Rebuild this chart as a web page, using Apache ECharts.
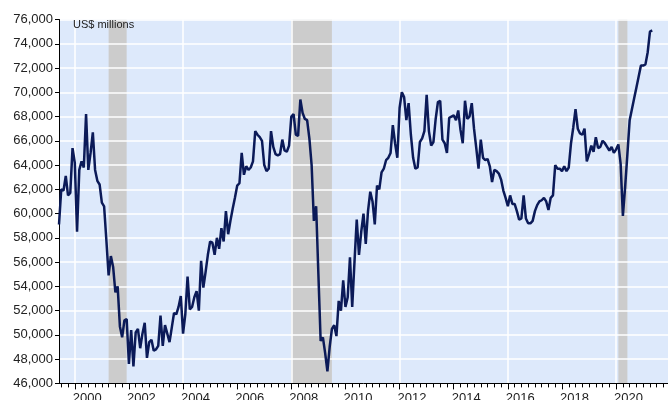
<!DOCTYPE html>
<html>
<head>
<meta charset="utf-8">
<script src="https://cdn.jsdelivr.net/npm/echarts@6/dist/echarts.min.js"></script>
<style>
  html, body { margin: 0; padding: 0; background: #fff; }
  #chart { width: 668px; height: 400px; }
</style>
</head>
<body>
<div id="chart"></div>
<script>
// monthly values, US$ millions (first point Jun 1999)
const v1999 = [59100, 62000, 61900, 63100, 61500, 61700, 65400];
const v2000 = [64200, 58500, 63600, 64300, 63800, 68200, 63600, 65000, 66700, 63600, 62700, 62400];
const v2001 = [60900, 60600, 57800, 54900, 56500, 55600, 53500, 54000, 50700, 49800, 51200, 51300];
const v2002 = [47600, 50400, 47400, 50200, 50500, 48900, 50100, 51000, 48100, 49400, 49600, 48700];
const v2003 = [48800, 49100, 51600, 49100, 50800, 50100, 49400, 50600, 51800, 51700, 52300, 53200];
const v2004 = [50100, 51700, 54800, 52100, 52300, 53100, 53600, 52000, 56100, 53900, 55200, 56600];
const v2005 = [57700, 57600, 56600, 58000, 57100, 58800, 57700, 60200, 58300, 59400, 60400, 61300];
const v2006 = [62300, 62500, 65000, 63200, 63900, 63600, 63800, 64300, 66800, 66500, 66300, 66000];
const v2007 = [64000, 63500, 63700, 66800, 65500, 64900, 64800, 64900, 66100, 65200, 65100, 65600];
const v2008 = [68000, 68200, 66500, 66400, 69400, 68300, 67800, 67700, 66200, 64000, 59400, 60600];
const v2009 = [55000, 49500, 49800, 48500, 47000, 49000, 50500, 50800, 49900, 52800, 52000, 54500];
const v2010 = [52300, 53100, 56400, 52300, 56000, 59500, 56600, 58500, 60000, 57500, 60200, 61800];
const v2011 = [61000, 59100, 62300, 62000, 63400, 63700, 64400, 64600, 65000, 67300, 65800, 64600];
const v2012 = [68700, 70000, 69600, 67700, 69100, 66500, 64600, 63700, 63800, 65900, 66200, 66800];
const v2013 = [69800, 66800, 65600, 65900, 67800, 69200, 69300, 66100, 65800, 65000, 67900, 68000];
const v2014 = [68100, 67700, 68500, 66900, 65800, 69300, 67800, 68000, 69100, 67000, 65400, 63700];
const v2015 = [66100, 64600, 64400, 64500, 63900, 62600, 63600, 63500, 63300, 62800, 61900, 61300];
const v2016 = [60600, 61500, 60800, 60800, 60200, 59500, 59600, 61500, 59600, 59200, 59200, 59400];
const v2017 = [60200, 60700, 61000, 61100, 61300, 61000, 60300, 61300, 61500, 64000, 63700, 63700];
const v2018 = [63500, 63900, 63500, 63800, 65800, 67100, 68600, 67000, 66600, 66500, 67000, 64300];
const v2019 = [64900, 65600, 65100, 66300, 65400, 65500, 66000, 65800, 65500, 65200, 65500, 65000];
const v2020 = [65300, 65700, 64100, 59800, 62200, 64900, 67700, 68600, 69500, 70400, 71300, 72200];
const v2021 = [72200, 72300, 73300, 75000, 75100];

// recession shading [from, to]
const recessions = [['2001-04', '2001-12'], ['2008-01', '2009-07'], ['2020-02', '2020-06']];

const yTicks = { min: 46000, max: 76000, step: 2000 };

const values = [].concat(v1999, v2000, v2001, v2002, v2003, v2004, v2005, v2006, v2007,
  v2008, v2009, v2010, v2011, v2012, v2013, v2014, v2015, v2016, v2017, v2018, v2019, v2020, v2021);

// month categories Jun 1999 .. Dec 2021
const months = [];
for (let y = 1999, m = 6; y < 2021 || (y === 2021 && m <= 12); ) {
  months.push(y + "-" + String(m).padStart(2, "0"));
  m++;
  if (m > 12) { m = 1; y++; }
}

function yr(s) { return parseInt(s.slice(0, 4)); }
function mo(s) { return parseInt(s.slice(5, 7)); }

var myChart = echarts.init(document.getElementById("chart"));
myChart.setOption({
  animation: false,
  textStyle: { fontFamily: "Liberation Sans, Arial, sans-serif" },
  grid: {
    left: 59, right: 0, top: 19.5, bottom: 16.6,
    outerBoundsMode: "none",
    show: true, backgroundColor: "#dde9fb", borderWidth: 0, z: 0,
  },
  graphic: [{
    type: "text", left: 73, top: 19, z: 10,
    style: { text: "US$ millions", fontSize: 11, fill: "#222", fontFamily: "Liberation Sans, Arial, sans-serif" },
  }],
  xAxis: [
    {
      type: "category",
      data: months,
      boundaryGap: false,
      z: 2,
      axisLine: { lineStyle: { color: "#000", width: 1 } },
      axisTick: {
        length: 4,
        lineStyle: { color: "#000" },
        interval: function (i, v) { return (mo(v) - 1) % 3 === 0; },
      },
      axisLabel: {
        color: "#222", fontSize: 13, margin: 9, align: "left",
        padding: [0, 0, 0, -2],
        interval: function (i, v) { return mo(v) === 1 && yr(v) % 2 === 0; },
        formatter: function (v) { return v.slice(0, 4); },
      },
      splitLine: {
        show: true,
        lineStyle: { color: "#fff", width: 1.5 },
        interval: function (i, v) { return mo(v) === 1 && yr(v) % 4 === 0; },
      },
    },
    {
      // longer ticks at labelled years
      type: "category",
      data: months,
      boundaryGap: false,
      position: "bottom",
      z: 2,
      axisLine: { show: false },
      axisLabel: { show: false },
      splitLine: { show: false },
      axisTick: {
        length: 6,
        lineStyle: { color: "#000" },
        interval: function (i, v) { return mo(v) === 1 && yr(v) % 2 === 0; },
      },
    },
  ],
  yAxis: {
    type: "value",
    min: yTicks.min,
    max: yTicks.max,
    interval: yTicks.step,
    z: 2,
    axisLine: { show: true, lineStyle: { color: "#000", width: 1 } },
    axisTick: { show: true, length: 4, lineStyle: { color: "#000" } },
    axisLabel: {
      color: "#222", fontSize: 13, margin: 6,
      padding: [0, 0, 4, 0],
      formatter: function (v) { return v.toLocaleString("en-US"); },
    },
    splitLine: { lineStyle: { color: "#fff", width: 1.5 } },
  },
  series: [
    {
      type: "line",
      data: values,
      z: 3,
      symbol: "none",
      lineStyle: { color: "#0b1a58", width: 2.5 },
      markArea: {
        silent: true,
        z: 1,
        itemStyle: { color: "#cccccc" },
        data: recessions.map(function (r) { return [{ xAxis: r[0] }, { xAxis: r[1] }]; }),
      },
    },
  ],
});
</script>
</body>
</html>
